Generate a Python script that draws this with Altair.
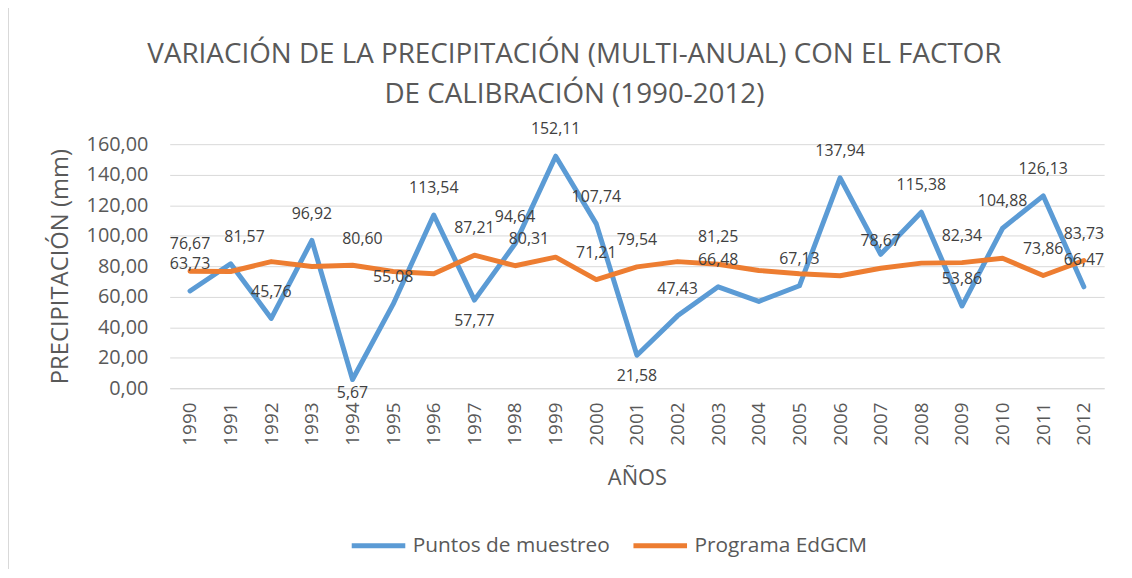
import altair as alt
import pandas as pd

years = ["1990", "1991", "1992", "1993", "1994", "1995", "1996", "1997", "1998", "1999",
         "2000", "2001", "2002", "2003", "2004", "2005", "2006", "2007", "2008", "2009",
         "2010", "2011", "2012"]
puntos = [63.73, 81.57, 45.76, 96.92, 5.67, 55.08, 113.54, 57.77, 94.64, 152.11,
          107.74, 21.58, 47.43, 66.48, 56.9, 67.13, 137.94, 87.8, 115.38, 53.86,
          104.88, 126.13, 66.47]
edgcm = [76.67, 76.5, 83.0, 79.8, 80.60, 76.5, 75.0, 87.21, 80.31, 85.9,
         71.21, 79.54, 83.0, 81.25, 77.2, 75.0, 73.7, 78.67, 82.0, 82.34,
         85.2, 73.86, 83.73]
# which data labels Excel shows, and where ("" = hidden)
puntos_lbl = ["a", "ar", "a", "a", "b2", "a", "a", "b", "a", "a",
              "a", "b", "a", "a", "", "a", "a", "", "a", "a",
              "a", "a", "a"]
edgcm_lbl = ["a", "", "", "", "ar2", "", "", "a", "ar", "",
             "a", "a", "", "a", "", "", "", "a", "", "a",
             "", "a", "a"]
series = ["Puntos de muestreo", "Programa EdGCM"]
colors = ["#5B9BD5", "#ED7D31"]
placements = {"a": (0, -27), "ar": (14, -27), "ar2": (10, -26), "b": (0, 21), "b2": (0, 14)}
y_ticks = [0, 20, 40, 60, 80, 100, 120, 140, 160]

rows = []
for s, vals, lbls in [(series[0], puntos, puntos_lbl), (series[1], edgcm, edgcm_lbl)]:
    for y, v, l in zip(years, vals, lbls):
        rows.append({"year": y, "value": v, "serie": s, "place": l,
                     "label": f"{v:.2f}".replace(".", ",")})
df = pd.DataFrame(rows)

FONT = "Open Sans"
x_enc = alt.X("year:O", sort=years,
              scale=alt.Scale(type="point", padding=0.5),
              axis=alt.Axis(title="AÑOS", labelAngle=-90, labelPadding=14, ticks=False,
                            domainColor="#D9D9D9", labelFontSize=19, labelColor="#595959",
                            titleFontSize=22, titleColor="#595959", titleFont=FONT,
                            titleFontWeight="normal", labelFont=FONT,
                            titleY=90, titleBaseline="middle"))
y_enc = alt.Y("value:Q", scale=alt.Scale(domain=[0, 160], nice=False),
              axis=alt.Axis(title="PRECIPITACIÓN (mm)", values=y_ticks,
                            labelExpr="replace(format(datum.value, '.2f'), '.', ',')",
                            ticks=False, domain=False, gridColor="#D9D9D9",
                            labelOverlap=False, labelFlush=False,
                            labelFontSize=20, labelColor="#595959", labelPadding=22,
                            labelFont=FONT, titleFont=FONT, titleFontSize=24,
                            titleColor="#595959", titleFontWeight="normal",
                            titleX=-110, titleY=123, titleBaseline="middle",
                            titleAlign="center"))

base = alt.Chart(df)
lines = base.mark_line(strokeWidth=5, strokeCap="round", strokeJoin="round").encode(
    x=x_enc, y=y_enc,
    color=alt.Color("serie:N", scale=alt.Scale(domain=series, range=colors),
                    legend=alt.Legend(title=None, orient="none", legendX=181, legendY=375,
                                      direction="horizontal", symbolType="stroke",
                                      symbolSize=2916, symbolStrokeWidth=5,
                                      labelFontSize=21, labelFont=FONT, labelColor="#595959",
                                      labelLimit=400, labelOffset=5, columnPadding=13)),
    order=alt.Order("serie:N"),
)

label_layers = []
for key, (dx, dy) in placements.items():
    label_layers.append(
        base.transform_filter(alt.datum.place == key)
        .mark_text(dx=dx, dy=dy, fontSize=16, font=FONT, color="#404040", baseline="middle")
        .encode(x=x_enc, y=y_enc, text="label:N")
    )

border = alt.Chart(df).mark_rule(color="#D9D9D9", strokeWidth=1).encode(
    x=alt.value(-163), y=alt.value(-143), y2=alt.value(440))

chart = alt.layer(lines, *label_layers, border).properties(
    width=942, height=246,
    autosize=alt.AutoSizeParams(type="none"),
    padding={"left": 163, "top": 135, "right": 20, "bottom": 180},
    title=alt.TitleParams(
        text=["VARIACIÓN DE LA PRECIPITACIÓN (MULTI-ANUAL) CON EL FACTOR",
              "DE CALIBRACIÓN (1990-2012)"],
        font=FONT, fontSize=28, fontWeight="normal", color="#595959",
        anchor="middle", dx=-63, offset=-108, lineHeight=40),
).configure_view(stroke=None)

chart.save("out.html", embed_options={"renderer": "svg", "actions": False})
